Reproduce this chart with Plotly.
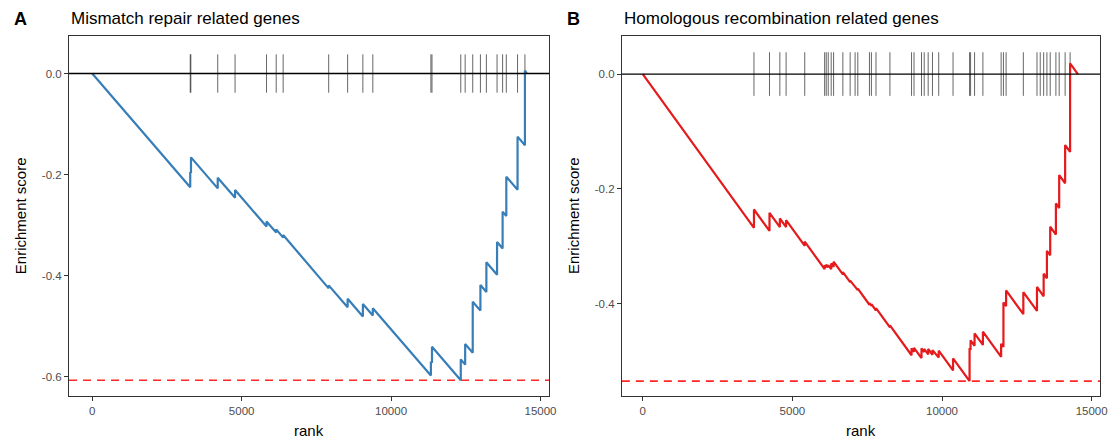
import plotly.graph_objects as go

# ---------------- data ----------------
# Panel A: Mismatch repair related genes
mmr_hit_ranks = [3280, 3300, 4200, 4780, 5833, 6157, 6390, 7913, 8547, 9057, 9390,
                 11333, 11370, 12333, 12480, 12733, 12990, 13190, 13547, 13733,
                 13857, 14233, 14480]
mmr_curve_rank = [0, 3280, 3280, 3305, 3305, 4200, 4200, 4780, 4780, 5833, 5833,
                  6157, 6157, 6390, 6390, 7913, 7913, 8547, 8547, 9057, 9057,
                  9390, 9390, 11333, 11333, 11370, 11370, 12333, 12333, 12480, 12480,
                  12733, 12733, 12990, 12990, 13190, 13190, 13547, 13547, 13733, 13733,
                  13857, 13857, 14233, 14233, 14480, 14480, 14545]
mmr_curve_es = [0.0, -0.2254, -0.195, -0.197, -0.166, -0.2275, -0.2063, -0.246, -0.2307,
                -0.303, -0.293, -0.315, -0.3086, -0.325, -0.3198, -0.4254, -0.4195,
                -0.463, -0.4459, -0.481, -0.4564, -0.479, -0.465, -0.598, -0.5706,
                -0.573, -0.541, -0.6075, -0.566, -0.5765, -0.5356, -0.553, -0.4519,
                -0.4695, -0.4188, -0.4325, -0.3739, -0.3984, -0.3337, -0.3465, -0.2737,
                -0.282, -0.2043, -0.230, -0.125, -0.142, 0.006, 0.0]
mmr_min_es = -0.6075

# Panel B: Homologous recombination related genes
hr_hit_ranks = [3716, 4235, 4581, 4790, 5413, 6078, 6131, 6198, 6297, 6377, 6687, 6930,
                7096, 7186, 7575, 7641, 7794, 8260, 8982, 9065, 9315, 9405, 9538, 9681,
                9890, 10369, 10921, 10955, 11088, 11367, 11976, 12053, 12142, 12718,
                13174, 13283, 13397, 13506, 13616, 13806, 13916, 14115, 14281]
hr_curve_rank = [0, 3716, 3716, 4235, 4235, 4581, 4581, 4790, 4790, 5413, 5413,
                 6078, 6078, 6131, 6131, 6198, 6198, 6297, 6297, 6377, 6377, 6687, 6687,
                 6930, 6930, 7096, 7096, 7186, 7186, 7575, 7575, 7641, 7641, 7794, 7794,
                 8260, 8260, 8982, 8982, 9065, 9065, 9315, 9315, 9405, 9405, 9538, 9538,
                 9681, 9681, 9890, 9890, 10369, 10369, 10921, 10921, 10955, 10955,
                 11088, 11088, 11367, 11367, 11976, 11976, 12053, 12053, 12142, 12142,
                 12718, 12718, 13174, 13174, 13397, 13397, 13506, 13506, 13616, 13616,
                 13806, 13806, 13916, 13916, 14115, 14115, 14281, 14281, 14540]
hr_curve_es = [0.0, -0.268, -0.236, -0.2733, -0.2418, -0.2667, -0.2517, -0.2667, -0.2546,
               -0.2994, -0.292, -0.340, -0.333, -0.337, -0.332, -0.337, -0.333, -0.340,
               -0.330, -0.336, -0.327, -0.349, -0.345, -0.3625, -0.360, -0.372, -0.370,
               -0.3765, -0.374, -0.402, -0.399, -0.4037, -0.401, -0.412, -0.408,
               -0.4415, -0.438, -0.490, -0.478, -0.484, -0.477, -0.495, -0.478,
               -0.4845, -0.479, -0.4886, -0.479, -0.4893, -0.481, -0.494, -0.482,
               -0.5165, -0.4955, -0.535, -0.478, -0.4805, -0.464, -0.4736, -0.452,
               -0.472, -0.449, -0.4928, -0.470, -0.4755, -0.398, -0.4044, -0.377,
               -0.4184, -0.380, -0.4128, -0.371, -0.3874, -0.348, -0.3558, -0.308,
               -0.3159, -0.266, -0.2797, -0.2255, -0.2334, -0.176, -0.1903, -0.1238,
               -0.1357, 0.0186, 0.0]
hr_min_es = -0.535

panel_titles = ["Mismatch repair related genes", "Homologous recombination related genes"]
panel_letters = ["A", "B"]
x_tick_vals = [0, 5000, 10000, 15000]
x_tick_text = ["0", "5000", "10000", "15000"]
y_tick_vals_a = [0.0, -0.2, -0.4, -0.6]
y_tick_text_a = ["0.0", "-0.2", "-0.4", "-0.6"]
y_tick_vals_b = [0.0, -0.2, -0.4]
y_tick_text_b = ["0.0", "-0.2", "-0.4"]

# ---------------- figure ----------------
# the page body has an 8px margin; figure is shrunk/shifted to compensate
OFF = 8
PAGE_W, PAGE_H = 1120, 443
W, H = PAGE_W - OFF, PAGE_H - OFF
ML, MR, MT, MB = 69 - OFF, 16, 36 - OFF, 47
PW = W - ML - MR
PH = H - MT - MB
FONT = "Liberation Sans, Arial, Helvetica, sans-serif"

def px_x(p):
    # page pixel -> paper coordinate
    return (p - 69) / PW

def px_y(p):
    return (396 - p) / PH

dom_a = [0.0, px_x(551)]
dom_b = [px_x(624), 1.0]

RUG_H = 0.038

def rug_xy(ranks):
    xs, ys = [], []
    for r in ranks:
        xs += [r, r, None]
        ys += [-RUG_H, RUG_H, None]
    return xs, ys

fig = go.Figure()

for ranks, cx, cy, color, xa, ya in [
    (mmr_hit_ranks, mmr_curve_rank, mmr_curve_es, "#377EB8", "x", "y"),
    (hr_hit_ranks, hr_curve_rank, hr_curve_es, "#E41A1C", "x2", "y2"),
]:
    rx, ry = rug_xy(ranks)
    fig.add_trace(go.Scatter(x=rx, y=ry, mode="lines", xaxis=xa, yaxis=ya,
                             line=dict(color="rgba(0,0,0,0.6)", width=1),
                             hoverinfo="skip", showlegend=False))
    fig.add_trace(go.Scatter(x=cx, y=cy, mode="lines", xaxis=xa, yaxis=ya,
                             line=dict(color=color, width=2.2),
                             showlegend=False))

shapes = []
for xa, ya, mn in [("x", "y", mmr_min_es), ("x2", "y2", hr_min_es)]:
    shapes.append(dict(type="line", xref=f"{xa} domain", yref=ya, x0=0, x1=1, y0=0, y1=0,
                       line=dict(color="black", width=1.3), layer="above"))
    shapes.append(dict(type="line", xref=f"{xa} domain", yref=ya, x0=0, x1=1, y0=mn, y1=mn,
                       line=dict(color="rgba(255,0,0,0.85)", width=1.6, dash="8px,6px"),
                       layer="below"))

axis_common = dict(showline=True, mirror=True, linecolor="#333333", linewidth=1,
                   ticks="outside", ticklen=4, tickcolor="#333333", tickwidth=1,
                   showgrid=False, zeroline=False,
                   tickfont=dict(family=FONT, size=11.5, color="#4D4D4D"))

fig.update_layout(
    width=W, height=H,
    margin=dict(l=ML, r=MR, t=MT, b=MB, pad=0),
    plot_bgcolor="white", paper_bgcolor="white",
    shapes=shapes,
    xaxis=dict(domain=dom_a, range=[-777, 15290], anchor="y",
               tickvals=x_tick_vals, ticktext=x_tick_text, **axis_common),
    yaxis=dict(domain=[0, 1], range=[-0.6386, 0.0743], anchor="x",
               tickvals=y_tick_vals_a, ticktext=y_tick_text_a, **axis_common),
    xaxis2=dict(domain=dom_b, range=[-699, 15280], anchor="y2",
                tickvals=x_tick_vals, ticktext=x_tick_text, **axis_common),
    yaxis2=dict(domain=[0, 1], range=[-0.561, 0.0663], anchor="x2",
                tickvals=y_tick_vals_b, ticktext=y_tick_text_b, **axis_common),
)

annotations = []
for i, (xl, xr) in enumerate([(69, 551), (624, 1104)]):
    # panel letter
    annotations.append(dict(text=f"<b>{panel_letters[i]}</b>", xref="paper", yref="paper",
                            x=px_x(xl - 49), y=px_y(19), xanchor="center", yanchor="middle",
                            showarrow=False, font=dict(family=FONT, size=18, color="black")))
    # panel title
    annotations.append(dict(text=panel_titles[i], xref="paper", yref="paper",
                            x=px_x(xl), y=px_y(19), xanchor="left", yanchor="middle",
                            showarrow=False, font=dict(family=FONT, size=17, color="black")))
    # x axis title
    annotations.append(dict(text="rank", xref="paper", yref="paper",
                            x=px_x((xl + xr) / 2), y=px_y(430), xanchor="center", yanchor="middle",
                            showarrow=False, font=dict(family=FONT, size=15, color="black")))
    # y axis title
    annotations.append(dict(text="Enrichment score", xref="paper", yref="paper",
                            x=px_x(xl - 49), y=0.5, xanchor="center", yanchor="middle",
                            textangle=-90, showarrow=False,
                            font=dict(family=FONT, size=15, color="black")))
fig.update_layout(annotations=annotations)

fig.write_html("out.html")
